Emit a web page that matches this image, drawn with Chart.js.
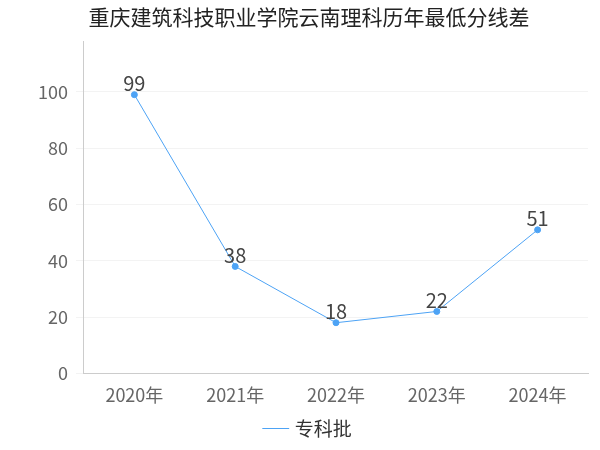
<!DOCTYPE html>
<html>
<head>
<meta charset="utf-8">
<script src="https://cdn.jsdelivr.net/npm/chart.js@4/dist/chart.umd.min.js"></script>
<style>
  body { margin: 0; background: #fff; }
</style>
</head>
<body>
<canvas id="grafico" width="600" height="450"></canvas>
<script>
const years = ["2020年", "2021年", "2022年", "2023年", "2024年"];
const scores = [99, 38, 18, 22, 51];
const seriesName = "专科批";
const yTicks = [0, 20, 40, 60, 80, 100];

const FONT = "'Noto Sans CJK SC', 'Noto Sans', sans-serif";

// etiquetas encima de cada punto
const etiquetas = {
  id: "etiquetas",
  afterDatasetsDraw(chart) {
    const ctx = chart.ctx;
    const meta = chart.getDatasetMeta(0);
    ctx.save();
    ctx.font = "20px " + FONT;
    ctx.fillStyle = "#444";
    ctx.textAlign = "center";
    ctx.textBaseline = "bottom";
    meta.data.forEach((p, i) => {
      ctx.fillText(String(scores[i]), p.x, p.y - 1);
    });
    ctx.restore();
  }
};

new Chart(document.getElementById("grafico"), {
  type: "line",
  data: {
    labels: years,
    datasets: [{
      label: seriesName,
      data: scores,
      borderColor: "#4da3f5",
      backgroundColor: "#4da3f5",
      borderWidth: 1,
      pointRadius: 3,
      pointHoverRadius: 3,
      tension: 0
    }]
  },
  options: {
    responsive: false,
    animation: false,
    layout: { padding: { left: 30, right: 12, top: 0, bottom: 2 } },
    plugins: {
      title: {
        display: true,
        text: "重庆建筑科技职业学院云南理科历年最低分线差",
        font: { family: FONT, size: 21, weight: "normal" },
        color: "#222",
        padding: { top: 4, bottom: 12 }
      },
      legend: {
        position: "bottom",
        labels: {
          usePointStyle: true,
          pointStyle: "line",
          font: { family: FONT, size: 19 },
          color: "#333",
          padding: 10
        }
      },
      tooltip: { enabled: false }
    },
    scales: {
      x: {
        offset: true,
        grid: { display: false },
        border: { color: "#ccc" },
        ticks: { font: { family: FONT, size: 18 }, color: "#666", maxRotation: 0 }
      },
      y: {
        min: 0,
        max: 118,
        afterBuildTicks(axis) {
          axis.ticks = yTicks.map(v => ({ value: v }));
        },
        grid: { color: "#f3f3f3" },
        border: { color: "#ccc" },
        ticks: { font: { family: FONT, size: 18 }, color: "#666", padding: 8 }
      }
    }
  },
  plugins: [etiquetas]
});
</script>
</body>
</html>
